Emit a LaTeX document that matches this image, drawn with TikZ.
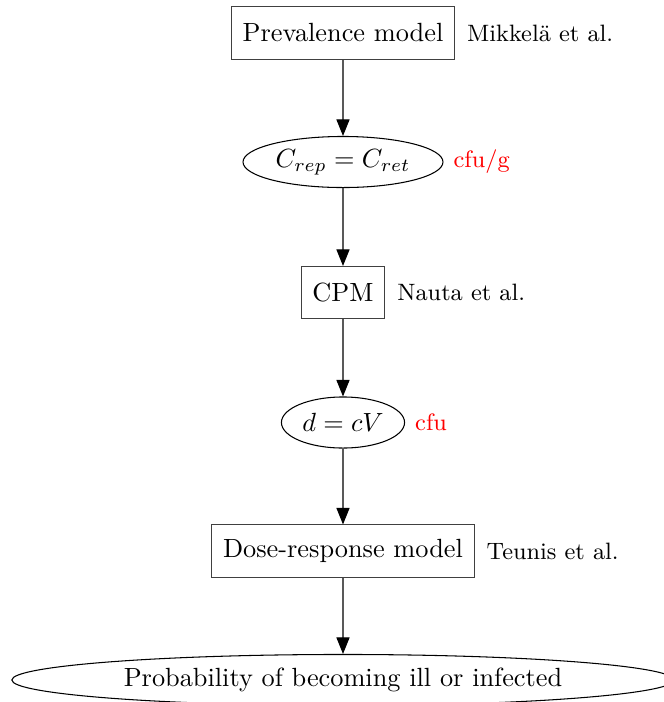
\documentclass[tikz,border=0pt]{standalone}
\usetikzlibrary{shapes.geometric,arrows.meta,positioning}

\begin{document}
\begin{tikzpicture}[x=0.38pt,y=-0.38pt,
  model/.style={draw=black!75,rectangle,inner xsep=4.3pt,minimum height=19.8pt},
  quantity/.style={draw,ellipse,inner sep=0pt,minimum height=19.4pt},
  source/.style={font=\small},
  unit/.style={font=\small,text=red},
  flow/.style={draw=black!65,-{Triangle[length=6.3pt,width=5pt,color=black]}}]

  \useasboundingbox (0,0) rectangle (664,702);

  % models and the quantities passed between them
  \node[model] (prev) at (343,33) {Prevalence model};
  \node[source,right=1pt of prev] (mikkela) {Mikkel\"a et al.};

  \node[quantity,minimum width=76pt] (crep) at (343,162) {$C_{rep} = C_{ret}$};
  \node[unit,right=0.3pt of crep] (cfug) {cfu/g};

  \node[model] (cpm) at (343,292.5) {CPM};
  \node[source,right=1pt of cpm] (nauta) {Nauta et al.};

  \node[quantity,minimum width=46.8pt] (dose) at (343,422.5) {$d = cV$};
  \node[unit,right=0.3pt of dose] (cfu) {cfu};

  \node[model] (dr) at (343,551) {Dose-response model};
  \node[source,right=1pt of dr] (teunis) {Teunis et al.};

  \node[quantity,minimum width=251.7pt] (ill) at (343,680) {Probability of becoming ill or infected};

  \foreach \a/\b in {prev/crep,crep/cpm,cpm/dose,dose/dr,dr/ill}
    \draw[flow] (\a) -- (\b);

\end{tikzpicture}
\end{document}
